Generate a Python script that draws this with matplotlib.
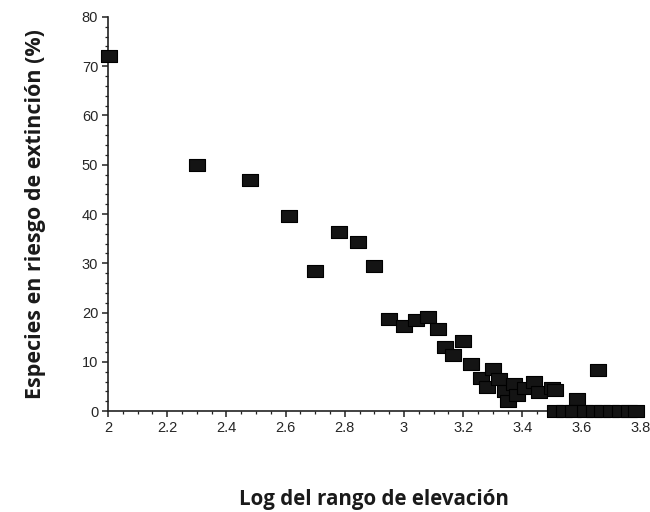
import matplotlib
matplotlib.use('Agg')
import matplotlib.pyplot as plt
from matplotlib.ticker import MultipleLocator, FormatStrFormatter

# data
log_rango = [2.005, 2.30, 2.48, 2.61, 2.70, 2.78, 2.845, 2.90,
             2.95, 3.00, 3.04, 3.08, 3.115, 3.14, 3.165, 3.20, 3.225,
             3.26, 3.28, 3.30, 3.32, 3.34, 3.35, 3.37, 3.38, 3.41,
             3.44, 3.455, 3.50, 3.51, 3.585, 3.655,
             3.51, 3.54, 3.57, 3.61, 3.64, 3.67, 3.70, 3.73, 3.76, 3.785]
riesgo = [72, 50, 47, 39.6, 28.5, 36.3, 34.3, 29.5,
          18.7, 17.2, 18.5, 19.1, 16.6, 13.0, 11.3, 14.2, 9.6,
          6.8, 4.8, 8.6, 6.5, 4.1, 2.0, 5.5, 3.2, 4.7,
          5.9, 3.9, 4.7, 4.3, 2.4, 8.3,
          0, 0, 0, 0, 0, 0, 0, 0, 0, 0]

xlabel = 'Log del rango de elevación'
ylabel = 'Especies en riesgo de extinción (%)'

fig = plt.figure(figsize=(6.5, 5.12), dpi=100)
ax = fig.add_axes([0.166, 0.197, 0.820, 0.770])

# squares a bit wider than tall, as in the picture
rect = [(-1.36, -1), (1.36, -1), (1.36, 1), (-1.36, 1), (-1.36, -1)]
ax.plot(log_rango, riesgo, linestyle='none', marker=rect, markersize=11,
        markerfacecolor='#141414', markeredgecolor='black',
        markeredgewidth=0.8, clip_on=False, zorder=3)

ax.set_xlim(2, 3.8)
ax.set_ylim(0, 80)
ax.spines['top'].set_visible(False)
ax.spines['right'].set_visible(False)
for s in ('left', 'bottom'):
    ax.spines[s].set_linewidth(1.2)
    ax.spines[s].set_color('#222222')

ax.xaxis.set_major_locator(MultipleLocator(0.2))
ax.xaxis.set_minor_locator(MultipleLocator(0.05))
ax.yaxis.set_major_locator(MultipleLocator(10))
ax.yaxis.set_minor_locator(MultipleLocator(2))
ax.xaxis.set_major_formatter(FormatStrFormatter('%g'))
ax.tick_params(which='major', direction='out', length=4, width=1.1,
               color='#222222', labelsize=10.5, labelcolor='#262626', pad=3)
ax.tick_params(which='minor', direction='out', length=2.5, width=0.9,
               color='#222222')
for lab in ax.get_xticklabels() + ax.get_yticklabels():
    lab.set_fontfamily('Liberation Sans')

ax.set_xlabel(xlabel, fontsize=14.8, fontweight='bold', family='Open Sans',
              color='#1a1a1a', labelpad=39)
ax.set_ylabel(ylabel, fontsize=15.5, fontweight='bold', family='Open Sans',
              color='#1a1a1a', labelpad=26)

fig.savefig('out.png', dpi=100)
